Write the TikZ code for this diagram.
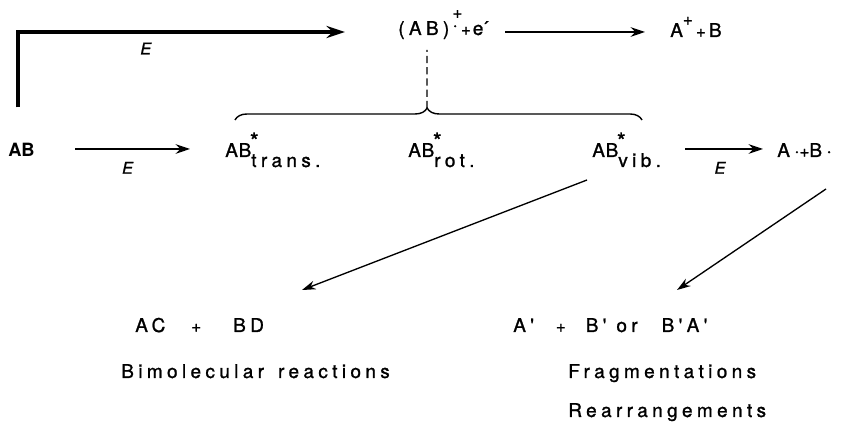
\documentclass[tikz,border=0pt]{standalone}
\usepackage{fontspec}
\usetikzlibrary{arrows.meta, calc, positioning, decorations.pathreplacing}
\newfontfamily\lettering{TeX Gyre Heros}[LetterSpace=23, FakeBold=1.2]
\newfontfamily\letteringtight{TeX Gyre Heros}
\newcommand{\smallplus}{{\fontsize{12}{12}\selectfont +}}
\newcommand{\excited}[1]{A\kern0.5pt B\rlap{\kern-1pt\raisebox{0.2cm}{\fontsize{16}{16}\selectfont *}}\raisebox{-0.25cm}{#1}}
\tikzset{
  chem/.style       = {anchor=base west, inner sep=0pt,
                       font=\lettering\fontsize{13.5}{16}\selectfont},
  chembold/.style   = {chem, font=\letteringtight\bfseries\fontsize{13}{16}\selectfont},
  elabel/.style     = {inner sep=0pt, font=\lettering\itshape\fontsize{11.5}{13}\selectfont},
  react/.style      = {line width=1.3pt, -{Stealth[length=3.6mm, width=2.4mm, inset=1.2mm]}},
  bigreact/.style   = {line width=2.6pt, -{Stealth[length=4.6mm, width=3mm, inset=1.5mm]}},
  slant/.style      = {line width=0.95pt, -{Stealth[length=3.4mm, width=2.2mm, inset=1.1mm]}},
  statebrace/.style = {line width=1pt, decorate,
                       decoration={brace, amplitude=0.3cm, aspect=0.472}},
  link/.style       = {line width=0.9pt, dash pattern=on 0.18cm off 0.1cm},
}
\begin{document}
\begin{tikzpicture}[x=1cm, y=1cm]
  \useasboundingbox (0,0) rectangle (21.025,10.575);
  % excitation row
  \node[chembold] (ab)    at (0.2,6.65)    {AB};
  \node[chem]     (trans) at (5.625,6.65)  {\excited{trans.}};
  \node[chem]     (rot)   at (10.2,6.65)   {\excited{rot.}};
  \node[chem]     (vib)   at (14.8,6.65)   {\excited{vib.}};
  \node[chem]     (rad)   at (19.425,6.65) {A·\smallplus B·};
  % ionisation row
  \node[chem] (ion)  at (9.95,9.7)
    {(AB)\kern0.08cm\rlap{\raisebox{0.42cm}{\smallplus}}\raisebox{0.1cm}{·}\kern0.08cm\smallplus\kern0.05cm e\kern-1pt´};
  \node[chem] (frag) at (16.75,9.65) {A\raisebox{0.3cm}{\smallplus}\,\smallplus\,B};
  % products
  \node[chem] (prod1) at (3.375,2.275) {AC\hspace{0.65cm}\smallplus\hspace{0.8cm}BD};
  \node[chem] (prod2) at (12.825,2.275)
    {A'\hspace{0.55cm}\smallplus\hspace{0.5cm}B'\hspace{0.25cm}or\hspace{0.6cm}B'A'};
  \node[chem] (bimol) at (3.025,1.125) {Bimolecular\hspace{0.35cm}reactions};
  \node[chem] (fragm) at (14.2,1.125) {Fragmentations};
  \node[chem] (rearr) at (14.2,0.15) {Rearrangements};

  \draw[bigreact, shorten <=0.9cm, shorten >=1.325cm]
    ([xshift=-0.085cm]ab.north) |- ([yshift=0.075cm]ion.base west)
    node[elabel, pos=0.668, below=0.22cm] {E};
  \draw[react, shorten >=0.875cm]
    ([shift={(1.675,0.2)}]ab.base west) -- ([yshift=0.2cm]trans.base west)
    node[elabel, pos=0.35, below=0.3cm] {E};
  \draw[react, shorten >=0.625cm]
    ([shift={(2.675,0.075)}]ion.base west) -- ([yshift=0.125cm]frag.base west);
  \draw[react, shorten >=0.35cm]
    ([shift={(2.325,0.2)}]vib.base west) -- ([yshift=0.2cm]rad.base west)
    node[elabel, pos=0.38, below=0.3cm] {E};

  % the three excited states
  \draw[statebrace] ([shift={(0.25,0.925)}]trans.base west)
    -- ([shift={(1.25,0.925)}]vib.base west);
  \coordinate (tip) at (10.675,7.875);
  \draw[link] (tip) -- ([shift={(0.725,-0.375)}]ion.base west);

  \draw[slant] ([shift={(-0.125,-0.575)}]vib.base west)
    -- ([shift={(4.175,1.05)}]prod1.base west);
  \draw[slant] ([shift={(1.225,-0.8)}]rad.base west)
    -- ([shift={(4.1,1.05)}]prod2.base west);
\end{tikzpicture}
\end{document}
